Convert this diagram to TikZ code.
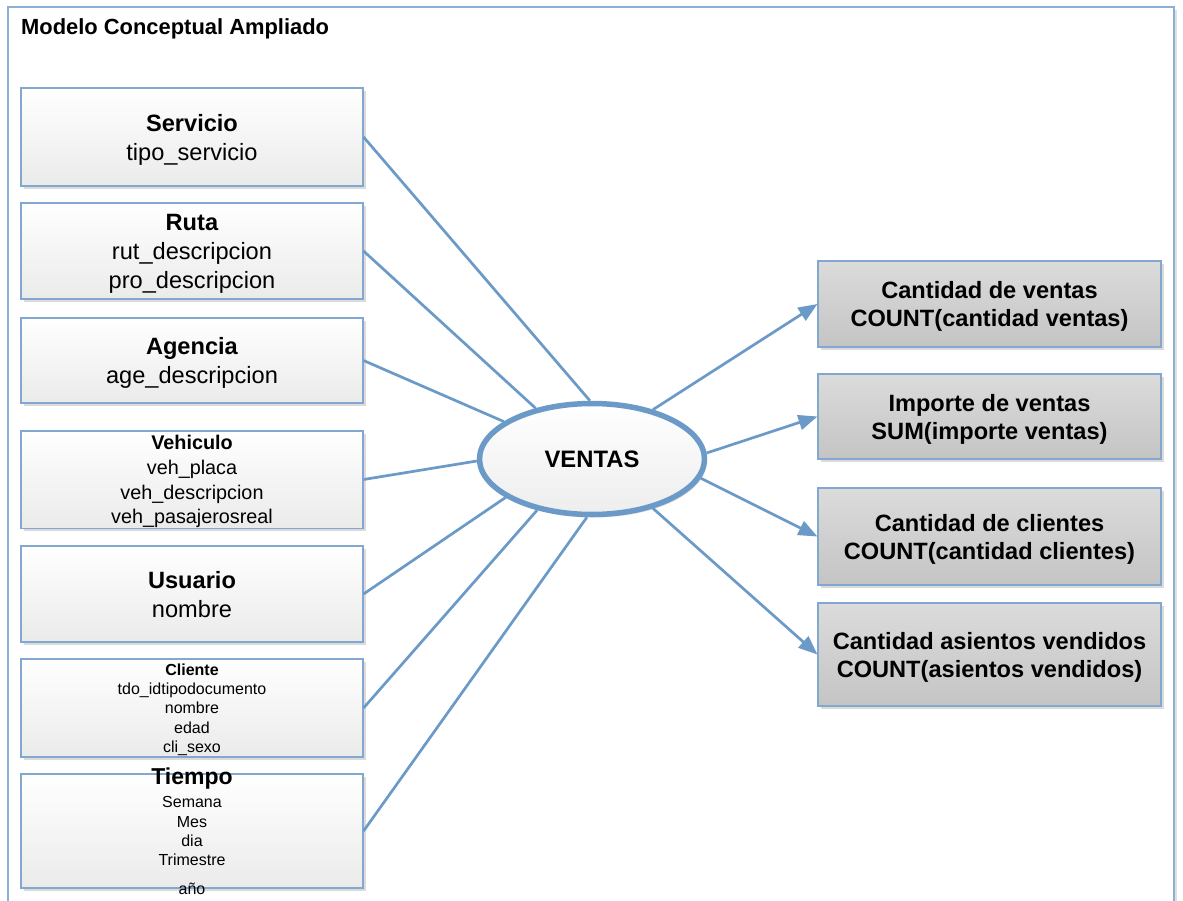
\documentclass[tikz,border=0pt]{standalone}
\usepackage{fontspec}
\setmainfont{Liberation Sans}
\usetikzlibrary{shapes.geometric,arrows.meta,shadows}

\definecolor{edgeblue}{RGB}{107,154,200}
\definecolor{boxline}{RGB}{130,167,209}
\definecolor{framecol}{RGB}{140,175,214}

% line boxes with room above the first line and below the last one
\newcommand\ascstrut{\rule{0pt}{0.95em}}
\newcommand\descstrut{\rule[-0.212em]{0pt}{0pt}}

\begin{document}
\begin{tikzpicture}[x=1pt,y=-1pt,
  softshadow/.style={drop shadow={shadow xshift=3pt,shadow yshift=-3pt,fill=black!14,opacity=1}},
  dimbox/.style={rectangle,draw=boxline,line width=1.1pt,minimum width=342pt,
    inner sep=0pt,align=center,top color=white,bottom color=black!8,softshadow},
  measurebox/.style={rectangle,draw=boxline,line width=1.1pt,minimum width=343pt,
    inner sep=0pt,align=center,top color=black!14,bottom color=black!23,softshadow,
    font=\fontsize{23.6pt}{28pt}\selectfont\bfseries},
  bigtxt/.style={font=\fontsize{23.6pt}{29pt}\selectfont},
  midtxt/.style={font=\fontsize{19.8pt}{24.7pt}\selectfont},
  smalltxt/.style={font=\fontsize{16pt}{19.3pt}\selectfont},
  conn/.style={draw=edgeblue,line width=2.7pt},
  arr/.style={-{Triangle[length=19pt,width=15pt]}}
]
\useasboundingbox (0,0) rectangle (1183,900);

% outer frame
\draw[framecol,line width=1.3pt,drop shadow={shadow xshift=3pt,shadow yshift=-3pt,fill=black!12,opacity=1},fill=white]
  (8,7) rectangle (1174,915);

\node[anchor=base west,inner sep=0pt,font=\fontsize{21.9pt}{26pt}\selectfont\bfseries] (title)
  at (21,34.3) {Modelo Conceptual Ampliado};

% dimension tables
\node[dimbox,bigtxt,minimum height=98pt] (servicio) at (192,137)
  {\ascstrut\textbf{Servicio}\\tipo\_servicio\descstrut};
\node[dimbox,bigtxt,minimum height=96pt] (ruta) at (192,251)
  {\ascstrut\textbf{Ruta}\\rut\_descripcion\\pro\_descripcion\descstrut};
\node[dimbox,bigtxt,minimum height=85pt] (agencia) at (192,360.5)
  {\ascstrut\textbf{Agencia}\\age\_descripcion\descstrut};
\node[dimbox,midtxt,minimum height=97pt] (vehiculo) at (192,479.5)
  {\ascstrut\textbf{Vehiculo}\\veh\_placa\\veh\_descripcion\\veh\_pasajerosreal\descstrut};
\node[dimbox,bigtxt,minimum height=96pt] (usuario) at (192,594)
  {\ascstrut\textbf{Usuario}\\nombre\descstrut};
\node[dimbox,smalltxt,minimum height=98pt] (cliente) at (192,708)
  {\ascstrut\textbf{Cliente}\\tdo\_idtipodocumento\\nombre\\edad\\cli\_sexo\descstrut};
\node[dimbox,minimum height=114pt] (tiempo) at (192,831) {};
\node[inner sep=0pt,font=\fontsize{23pt}{27pt}\selectfont\bfseries] (tiempohead)
  at (192,778.5) {Tiempo};
\node[inner sep=0pt,align=center,smalltxt,anchor=north] (tiempoattrs)
  at (192,796.5) {Semana\\Mes\\dia\\Trimestre\\[9pt]año};

% fact
\node[ellipse,draw=edgeblue,line width=5.5pt,minimum width=225pt,minimum height=111pt,
  inner sep=0pt,top color=white,bottom color=black!7,
  drop shadow={shadow xshift=2pt,shadow yshift=-3pt,fill=black!14,opacity=1},
  font=\fontsize{23.8pt}{28pt}\selectfont\bfseries] (ventas) at (592,459) {VENTAS};

% measures
\node[measurebox,minimum height=86pt] (m1) at (989.5,304)
  {\ascstrut Cantidad de ventas\\COUNT(cantidad ventas)\descstrut};
\node[measurebox,minimum height=85pt] (m2) at (989.5,416.5)
  {\ascstrut Importe de ventas\\SUM(importe ventas)\descstrut};
\node[measurebox,minimum height=97pt] (m3) at (989.5,536.5)
  {\ascstrut Cantidad de clientes\\COUNT(cantidad clientes)\descstrut};
\node[measurebox,minimum height=103pt] (m4) at (989.5,654.5)
  {\ascstrut Cantidad asientos vendidos\\COUNT(asientos vendidos)\descstrut};

% dimension links
\draw[conn] (servicio.east) -- (ventas.92);
\draw[conn] (ruta.east) -- (ventas.138.6);
\draw[conn] (agencia.east) -- (ventas.157.4);
\draw[conn] (vehiculo.east) -- (ventas.181.5);
\draw[conn] (usuario.east) -- (ventas.204.7);
\draw[conn] (cliente.east) -- (ventas.223.5);
\draw[conn] (tiempo.east) -- (ventas.265);

% measure links
\draw[conn,arr] (ventas.39.2) -- (m1.west);
\draw[conn,arr] (ventas.3.5) -- (m2.west);
\draw[conn,arr] (ventas.-10.8) -- (m3.west);
\draw[conn,arr] (ventas.-39.9) -- (m4.west);
\end{tikzpicture}
\end{document}
